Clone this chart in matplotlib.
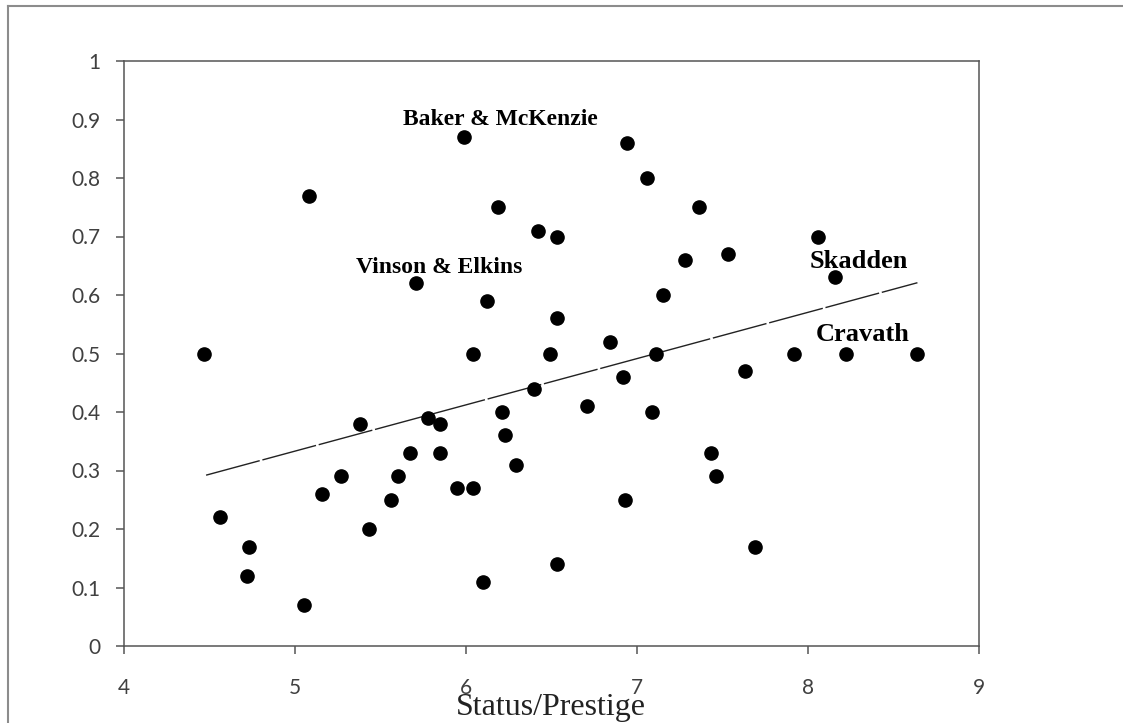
import numpy as np
import matplotlib
matplotlib.use("Agg")
from matplotlib import pyplot as plt
from matplotlib.lines import Line2D

# status/prestige vs. share
prestige = [4.47, 4.56, 4.73, 4.72, 5.05, 5.08, 5.16, 5.27, 5.38, 5.43,
            5.56, 5.60, 5.67, 5.71, 5.78, 5.85, 5.85, 5.95, 5.99, 6.04,
            6.04, 6.10, 6.12, 6.19, 6.21, 6.23, 6.29, 6.40, 6.42, 6.49,
            6.53, 6.53, 6.53, 6.71, 6.84, 6.92, 6.93, 6.94, 7.06, 7.09,
            7.11, 7.15, 7.28, 7.36, 7.43, 7.46, 7.53, 7.63, 7.69, 7.92,
            8.06, 8.16, 8.22, 8.64]
share = [0.50, 0.22, 0.17, 0.12, 0.07, 0.77, 0.26, 0.29, 0.38, 0.20,
         0.25, 0.29, 0.33, 0.62, 0.39, 0.38, 0.33, 0.27, 0.87, 0.50,
         0.27, 0.11, 0.59, 0.75, 0.40, 0.36, 0.31, 0.44, 0.71, 0.50,
         0.56, 0.70, 0.14, 0.41, 0.52, 0.46, 0.25, 0.86, 0.80, 0.40,
         0.50, 0.60, 0.66, 0.75, 0.33, 0.29, 0.67, 0.47, 0.17, 0.50,
         0.70, 0.63, 0.50, 0.50]

# linear trend line ends
trend_x = [4.48, 8.64]
trend_y = [0.292, 0.621]

# firm labels: text, x, y (baseline), size
firms = ["Baker & McKenzie", "Vinson & Elkins", "Skadden", "Cravath"]
firm_x = [5.632, 5.355, 8.012, 8.045]
firm_y = [0.891, 0.638, 0.647, 0.522]
firm_size = [17, 17, 19, 19]

xticks = [4, 5, 6, 7, 8, 9]
yticks = [0, 0.1, 0.2, 0.3, 0.4, 0.5, 0.6, 0.7, 0.8, 0.9, 1]
ytick_labels = ["0", "0.1", "0.2", "0.3", "0.4", "0.5", "0.6", "0.7", "0.8", "0.9", "1"]

fig = plt.figure(figsize=(11.23, 7.23), dpi=100)
ax = fig.add_axes([124 / 1123, 1 - 646 / 723, (979 - 124) / 1123, (646 - 61) / 723])

axis_col = "#555555"

ax.plot(trend_x, trend_y, color="#222222", lw=1.0, dashes=(40, 2), zorder=2)
ax.plot(prestige, share, "o", color="black", ms=9.5, mec="black", zorder=3)

for name, x, y, s in zip(firms, firm_x, firm_y, firm_size):
    ax.text(x, y, name, fontsize=s, fontweight="bold", family="Liberation Serif",
            ha="left", va="baseline", color="black")

ax.set_xlim(4, 9)
ax.set_ylim(0, 1)
ax.set_xticks(xticks)
ax.set_yticks(yticks)
ax.set_yticklabels(ytick_labels)

for sp in ax.spines.values():
    sp.set_color(axis_col)
    sp.set_linewidth(1.1)

ax.tick_params(axis="both", direction="out", length=5.8, width=1.1, color=axis_col,
               labelcolor="#404040", labelsize=15)
ax.tick_params(axis="y", pad=11)
ax.tick_params(axis="x", pad=17)
for lab in ax.get_xticklabels() + ax.get_yticklabels():
    lab.set_family("Lato")

fig.text(551 / 1123, 1 - 715 / 723, "Status/Prestige", family="Liberation Serif",
         fontsize=23, ha="center", va="baseline", color="#222222")

# outer frame (top and left edges visible)
fig.add_artist(Line2D([8 / 1123, 1], [1 - 6 / 723, 1 - 6 / 723], color="#8c8c8c", lw=1.5,
                      transform=fig.transFigure))
fig.add_artist(Line2D([8 / 1123, 8 / 1123], [0, 1 - 6 / 723], color="#8c8c8c", lw=1.5,
                      transform=fig.transFigure))

plt.savefig("out.png", dpi=100)
